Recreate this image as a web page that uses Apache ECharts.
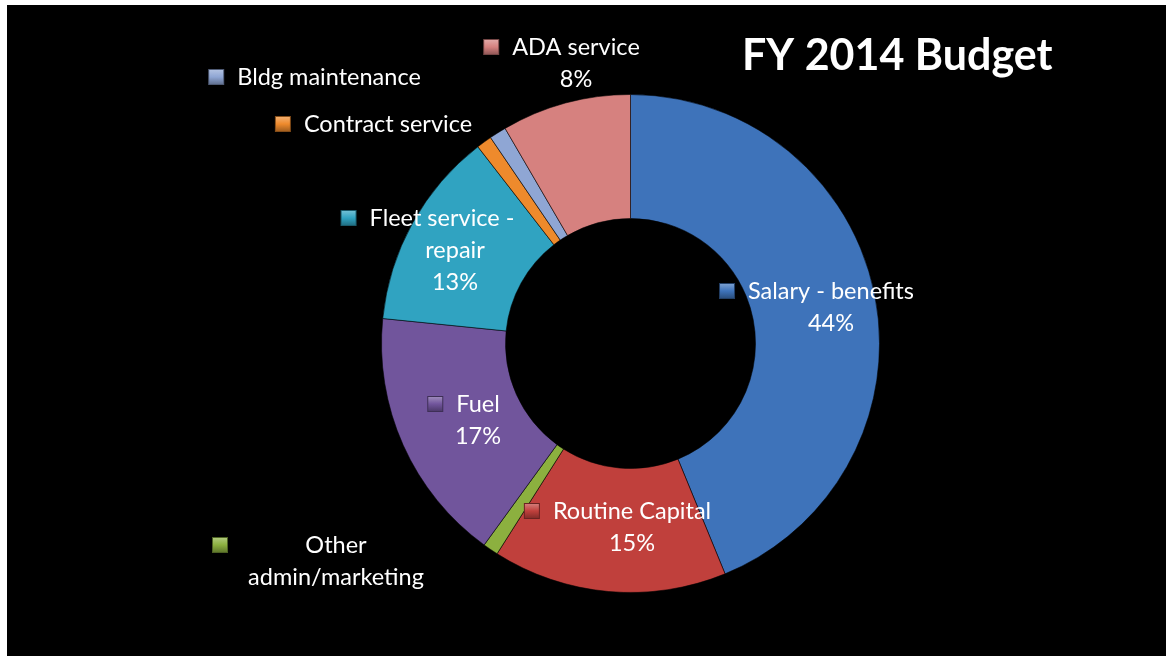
<!DOCTYPE html>
<html>
<head>
<meta charset="utf-8">
<title>FY 2014 Budget</title>
<script src="https://cdn.jsdelivr.net/npm/echarts@6/dist/echarts.min.js"></script>
<style>
  html, body { margin: 0; padding: 0; background: #ffffff; }
  #chart { position: absolute; left: 7px; top: 5px; width: 1159px; height: 651px; }
</style>
</head>
<body>
<div id="chart"></div>
<script>
// Budget categories, clockwise from 12 o'clock
const categories = [
  'Salary - benefits', 'Routine Capital', 'Other admin/marketing', 'Fuel',
  'Fleet service - repair', 'Contract service', 'Bldg maintenance', 'ADA service'
];
// Share of the FY 2014 budget, percent
const shares = [43.8, 15.2, 1.0, 16.6, 12.9, 1.0, 1.1, 8.4];
// How each category name wraps in its label
const labelLines = [
  ['Salary - benefits'], ['Routine Capital'], ['Other', 'admin/marketing'], ['Fuel'],
  ['Fleet service -', 'repair'], ['Contract service'], ['Bldg maintenance'], ['ADA service']
];
// Whether the label also prints the percentage
const showPercent = [true, true, false, true, true, false, false, true];

// Slice colours
const colors = ['#3e73ba', '#c0403c', '#8cb03f', '#71559c', '#30a3c1', '#ee8a2c', '#8fa6d4', '#d6817f'];
// Label block centres (chart pixels)
const labelAnchors = [
  [810, 302], [611, 522], [315, 556], [457, 415],
  [421, 245], [367, 119], [308, 72], [555, 58]
];
// Extra left indent for wrapped lines of a label
const lineIndent = [0, 0, 0, 0, 26, 0, 0, 0];

const FONT = 'Lato';
const FS = 23.5, LH = 32;
const MARK = 14, GAP = 14;

function shade(hex, f) {
  const n = parseInt(hex.slice(1), 16);
  let r = (n >> 16) & 255, g = (n >> 8) & 255, b = n & 255;
  const mix = c => f >= 0 ? Math.round(c + (255 - c) * f) : Math.round(c * (1 + f));
  return 'rgb(' + mix(r) + ',' + mix(g) + ',' + mix(b) + ')';
}

const rich = {
  t: { color: '#ffffff', fontFamily: FONT, fontSize: FS, lineHeight: LH },
  w: { color: '#ffffff', fontFamily: FONT, fontSize: FS, lineHeight: LH, width: 190, align: 'center' },
  g: { width: GAP, lineHeight: LH }
};
colors.forEach((c, i) => {
  rich['m' + i] = {
    width: MARK, height: MARK,
    backgroundColor: new echarts.graphic.LinearGradient(0, 0, 0, 1, [
      { offset: 0, color: shade(c, 0.35) },
      { offset: 0.5, color: c },
      { offset: 1, color: shade(c, -0.35) }
    ]),
    borderColor: shade(c, -0.45), borderWidth: 1
  };
  rich['sp' + i] = { width: MARK + GAP + lineIndent[i], lineHeight: LH };
});

const data = categories.map((name, i) => ({
  name: name,
  value: shares[i],
  itemStyle: { color: colors[i] }
}));

function labelText(p) {
  const i = p.dataIndex;
  const key = labelLines[i].length > 1 && labelLines[i][1].length > labelLines[i][0].length && !showPercent[i] ? 'w' : 't';
  const lines = labelLines[i].map((s, k) => (k === 0 ? '{m' + i + '|}{g|}' : '{sp' + i + '|}') + '{' + key + '|' + s + '}');
  if (showPercent[i]) lines.push('{sp' + i + '|}{t|' + Math.round(p.value) + '%}');
  return lines.join('\n');
}

const chart = echarts.init(document.getElementById('chart'), null, { renderer: 'canvas' });
chart.setOption({
  backgroundColor: '#000000',
  animation: false,
  title: {
    text: 'FY 2014 Budget',
    left: 730, top: 25,
    textStyle: { color: '#ffffff', fontFamily: FONT, fontWeight: 'bold', fontSize: 43 }
  },
  series: [{
    type: 'pie',
    center: [623.5, 338.5],
    radius: [125, 249],
    startAngle: 90,
    clockwise: true,
    avoidLabelOverlap: false,
    data: data,
    itemStyle: { borderColor: 'rgba(0,0,0,0.55)', borderWidth: 1 },
    label: {
      show: true,
      position: 'inside',
      formatter: labelText,
      rich: rich,
      align: 'center'
    },
    labelLine: { show: false },
    labelLayout: function (p) {
      const a = labelAnchors[p.dataIndex];
      return { x: a[0], y: a[1], align: 'center', verticalAlign: 'middle' };
    }
  }]
});
</script>
</body>
</html>
